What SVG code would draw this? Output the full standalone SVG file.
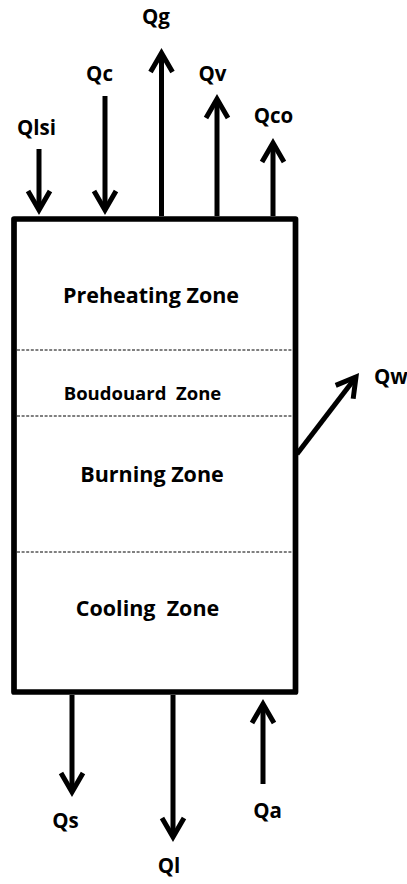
<svg xmlns="http://www.w3.org/2000/svg" width="407" height="884" viewBox="0 0 407 884">
<style>
.lbl{font-family:"Open Sans","Liberation Sans",sans-serif;font-weight:bold;fill:#000;text-anchor:middle}
.zone{font-size:21.5px}
.q{font-size:20.5px}
.arr{stroke:#000;stroke-width:5;fill:none;marker-end:url(#ah)}
.dash{stroke:#000;stroke-width:1;stroke-dasharray:3 1.6}
</style>
<defs>
<marker id="ah" viewBox="-26 -16 32 32" refX="0" refY="0" markerWidth="32" markerHeight="32" markerUnits="userSpaceOnUse" orient="auto">
<path d="M-19,-11 L0,0 L-19,11" fill="none" stroke="#000" stroke-width="5" stroke-linecap="butt" stroke-linejoin="miter"/>
</marker>
</defs>
<rect width="407" height="884" fill="#fff"/>
<g id="kiln">
<rect x="14" y="219" width="281.5" height="473" fill="none" stroke="#000" stroke-width="5.7" stroke-linejoin="round"/>
<line class="dash" x1="17" y1="350" x2="293" y2="350"/>
<line class="dash" x1="17" y1="416" x2="293" y2="416"/>
<line class="dash" x1="17" y1="552" x2="293" y2="552"/>
</g>
<g id="preheating"><text class="lbl zone" x="151" y="303">Preheating Zone</text></g>
<g id="boudouard"><text class="lbl" font-size="18.5" x="142.5" y="400" xml:space="preserve">Boudouard  Zone</text></g>
<g id="burning"><text class="lbl zone" x="152" y="482">Burning Zone</text></g>
<g id="cooling"><text class="lbl zone" x="147.5" y="616" xml:space="preserve">Cooling  Zone</text></g>
<g id="connectors">
<line class="arr" x1="39" y1="149" x2="39" y2="210"/>
<line class="arr" x1="105" y1="96" x2="105" y2="210"/>
<line class="arr" x1="161.5" y1="216" x2="161.5" y2="53"/>
<line class="arr" x1="217" y1="216" x2="217" y2="99"/>
<line class="arr" x1="273" y1="216" x2="273" y2="143"/>
<line class="arr" x1="297" y1="454" x2="356" y2="377"/>
<line class="arr" x1="72" y1="695" x2="72" y2="792"/>
<line class="arr" x1="173" y1="695" x2="173" y2="837"/>
<line class="arr" x1="263" y1="784" x2="263" y2="704"/>
</g>
<g id="labels">
<text class="lbl q" x="156" y="24">Qg</text>
<text class="lbl q" x="99.5" y="81">Qc</text>
<text class="lbl q" x="212.5" y="81">Qv</text>
<text class="lbl q" x="36.5" y="135">Qlsi</text>
<text class="lbl q" x="273.5" y="123">Qco</text>
<text class="lbl q" x="374" y="384" text-anchor="start" style="text-anchor:start">Qw</text>
<text class="lbl q" x="65.5" y="828">Qs</text>
<text class="lbl q" x="169" y="873">Ql</text>
<text class="lbl q" x="267.5" y="818">Qa</text>
</g>
</svg>
